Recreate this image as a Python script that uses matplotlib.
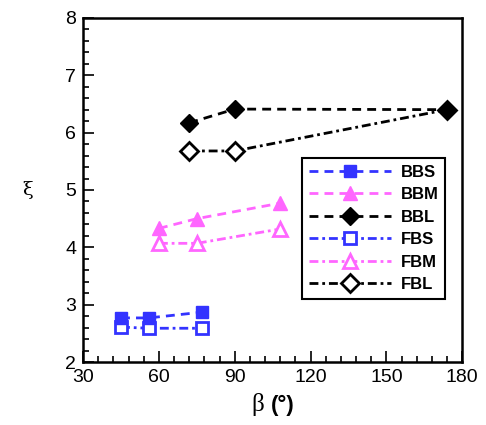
import matplotlib
matplotlib.use("Agg")
import matplotlib.pyplot as plt
from matplotlib.ticker import MultipleLocator

plt.rcParams['font.family'] = ['Liberation Sans', 'DejaVu Sans']

# beta (deg) and xi for each case
bbs_x = [45, 56, 77]
bbs_y = [2.77, 2.77, 2.87]
bbm_x = [60, 75, 108]
bbm_y = [4.33, 4.50, 4.77]
bbl_x = [72, 90, 174]
bbl_y = [6.17, 6.41, 6.40]
fbs_x = [45, 56, 77]
fbs_y = [2.61, 2.59, 2.59]
fbm_x = [60, 75, 108]
fbm_y = [4.07, 4.07, 4.32]
fbl_x = [72, 90, 174]
fbl_y = [5.68, 5.68, 6.40]

blue = "#3333ff"
pink = "#ff66ff"
dash = (0, (3.2, 2.2))
dashdot = (0, (3.2, 1.4, 1.0, 1.4))

fig = plt.figure(figsize=(4.86, 4.25), dpi=100)
ax = fig.add_axes([0.171, 0.148, 0.780, 0.810])

# filled (BB) series sit above the open (FB) ones
ax.plot(bbs_x, bbs_y, color=blue, ls=dash, lw=2, marker='s', ms=8.5,
        zorder=3, label='BBS')
ax.plot(bbm_x, bbm_y, color=pink, ls=dash, lw=2, marker='^', ms=10,
        zorder=3, label='BBM')
ax.plot(bbl_x, bbl_y, color='black', ls=dash, lw=2, marker='D', ms=9,
        zorder=3, label='BBL')
ax.plot(fbs_x, fbs_y, color=blue, ls=dashdot, lw=2, marker='s', ms=8.5,
        mfc='white', mew=2, label='FBS')
ax.plot(fbm_x, fbm_y, color=pink, ls=dashdot, lw=2, marker='^', ms=10.5,
        mfc='white', mew=2, label='FBM')
ax.plot(fbl_x, fbl_y, color='black', ls=dashdot, lw=2, marker='D', ms=9,
        mfc='white', mew=2, label='FBL')

ax.set_xlim(30, 180)
ax.set_ylim(2, 8)
ax.xaxis.set_major_locator(MultipleLocator(30))
ax.xaxis.set_minor_locator(MultipleLocator(6))
ax.yaxis.set_major_locator(MultipleLocator(1))
ax.yaxis.set_minor_locator(MultipleLocator(0.2))
ax.tick_params(which='both', direction='in', top=False, right=False,
               labelsize=14, width=1.2)
ax.tick_params(which='major', length=8, pad=5)
ax.tick_params(which='minor', length=4)
for s in ax.spines.values():
    s.set_linewidth(1.8)

leg = ax.legend(loc='upper left', bbox_to_anchor=(0.578, 0.593), fancybox=False,
                framealpha=1, edgecolor='black', handlelength=4.9,
                handletextpad=0.6, borderpad=0.4, borderaxespad=0,
                labelspacing=0.45, prop={'weight': 'bold', 'size': 12})
leg.get_frame().set_linewidth(1.5)
leg.set_zorder(5)

# axis labels: serif greek letter followed by bold units
fig.text(0.056, 0.553, 'ξ', family='DejaVu Serif', fontsize=14,
         ha='center', va='center')
fig.text(0.543, 0.033, 'β', family='Liberation Serif', fontsize=18,
         ha='right', va='baseline')
fig.text(0.557, 0.033, '(°)', fontsize=16, fontweight='bold',
         ha='left', va='baseline')

fig.savefig('out.png', dpi=100)
